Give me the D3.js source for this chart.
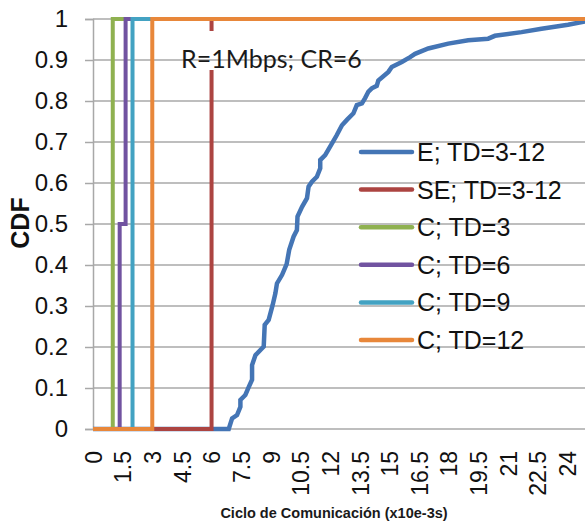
<!DOCTYPE html>
<html><head><meta charset="utf-8">
<script src="https://cdn.jsdelivr.net/npm/d3@7"></script>
<style>
html,body{margin:0;padding:0;background:#fff;}
svg{display:block;font-family:"Liberation Sans",Arial,sans-serif;}
</style></head>
<body><svg id="c" width="585" height="523"></svg>
<script>
// ---- data ----
const xMax = 24.9;
const xTickValues = [0,1.5,3,4.5,6,7.5,9,10.5,12,13.5,15,16.5,18,19.5,21,22.5,24];
const xTickLabels = ["0","1.5","3","4.5","6","7.5","9","10.5","12","13.5","15","16.5","18","19.5","21","22.5","24"];
const yTickValues = [0,0.1,0.2,0.3,0.4,0.5,0.6,0.7,0.8,0.9,1];
const yTickLabels = ["0","0.1","0.2","0.3","0.4","0.5","0.6","0.7","0.8","0.9","1"];
const seriesNames = ["E; TD=3-12","SE; TD=3-12","C; TD=3","C; TD=6","C; TD=9","C; TD=12"];
const seriesColors = ["#4475B5","#AC4441","#8FB150","#7153A0","#43A2C2","#E8873A"];

const eX = [0,6.87,7.04,7.29,7.46,7.46,7.71,7.88,8.05,8.05,8.22,8.64,8.69,8.89,9.09,9.23,9.31,9.57,9.80,9.93,10.15,10.32,10.35,10.58,10.83,10.91,11.08,11.33,11.50,11.50,11.75,12.00,12.17,12.34,12.60,12.85,13.18,13.35,13.61,13.77,13.94,14.11,14.36,14.44,14.95,15.12,15.63,16.05,16.30,16.97,17.98,18.99,20.00,20.34,21.69,22.70,24.04,24.9];
const eY = [0,0,0.026,0.034,0.054,0.071,0.083,0.102,0.120,0.156,0.180,0.201,0.254,0.266,0.302,0.331,0.355,0.376,0.402,0.437,0.469,0.485,0.518,0.542,0.563,0.591,0.603,0.615,0.636,0.656,0.668,0.689,0.703,0.717,0.741,0.754,0.770,0.790,0.794,0.807,0.823,0.831,0.837,0.850,0.871,0.883,0.895,0.907,0.915,0.928,0.940,0.948,0.952,0.959,0.968,0.976,0.986,0.994];
const seX = [0,6,6,24.9];
const seY = [0,0,1,1];
const c3X = [0,1,1,24.9];
const c3Y = [0,0,1,1];
const c6X = [0,1.35,1.35,1.65,1.65,24.9];
const c6Y = [0,0,0.5,0.5,1,1];
const c9X = [0,2,2,24.9];
const c9Y = [0,0,1,1];
const c12X = [0,3,3,24.9];
const c12Y = [0,0,1,1];
const seriesX = [eX,seX,c3X,c6X,c9X,c12X];
const seriesY = [eY,seY,c3Y,c6Y,c9Y,c12Y];
const noteText = "R=1Mbps; CR=6";
const xTitle = "Ciclo de Comunicación (x10e-3s)";
const yTitle = "CDF";

// ---- layout ----
const svg = d3.select("#c");
const L = 93, R = 585, T = 19, B = 429;
const x = d3.scaleLinear().domain([0, xMax]).range([L, R]);
const y = d3.scaleLinear().domain([0, 1]).range([B, T]);
const gridColor = "#A8A8A8";

function drawGrid(g){
  g.selectAll("line.g").data(yTickValues).join("line").attr("class","g")
    .attr("x1", L).attr("x2", R)
    .attr("y1", d=>y(d)).attr("y2", d=>y(d))
    .attr("stroke", gridColor).attr("stroke-width", 1.5);
}
drawGrid(svg.append("g"));

// y axis
const yAx = svg.append("g").attr("transform",`translate(${L},0)`)
  .call(d3.axisLeft(y).tickValues(yTickValues).tickSize(8).tickPadding(17)
    .tickFormat((d,i)=>yTickLabels[i]));
yAx.select(".domain").attr("stroke", gridColor).attr("stroke-width",1.5);
yAx.selectAll(".tick line").attr("stroke", gridColor).attr("stroke-width",1.5);
yAx.selectAll("text").attr("font-size",24).attr("fill","#111")
  .attr("font-family","'Liberation Sans',Arial,sans-serif");

// x axis labels
const xAx = svg.append("g").attr("transform",`translate(0,${B})`)
  .call(d3.axisBottom(x).tickValues(xTickValues).tickSize(0).tickFormat((d,i)=>xTickLabels[i]));
xAx.select(".domain").remove();
xAx.selectAll("text")
  .attr("font-size",23).attr("fill","#111")
  .attr("font-family","'Liberation Sans',Arial,sans-serif")
  .attr("text-anchor","end")
  .attr("transform","translate(0,22) rotate(-90)")
  .attr("x",0).attr("y",0).attr("dy","0.36em");

// series
const line = d3.line().x(d=>x(d[0])).y(d=>y(d[1]));
const sg = svg.append("g");
seriesX.forEach((xs,i)=>{
  const pts = xs.map((v,j)=>[v, seriesY[i][j]]);
  sg.append("path").attr("d", line(pts)).attr("fill","none")
    .attr("stroke", seriesColors[i]).attr("stroke-width", i===0?4.5:4)
    .attr("stroke-linejoin","miter").attr("stroke-linecap","butt");
});

// note label with white box
const noteG = svg.append("g");
const noteT = svg.append("text").text(noteText)
  .attr("x",181).attr("y",68).attr("font-size",25).attr("fill","#1a1a1a")
  .attr("font-family","Lato,'Liberation Sans',sans-serif");
const bb = noteT.node().getBBox();
noteG.append("rect").attr("x",bb.x-3).attr("y",31).attr("width",bb.width+6).attr("height",39).attr("fill","#fff");
svg.append("clipPath").attr("id","nc").append("rect")
  .attr("x",bb.x-3).attr("y",31).attr("width",bb.width+6).attr("height",39);
drawGrid(noteG.append("g").attr("clip-path","url(#nc)"));
noteT.raise();

// legend
const lg = svg.append("g");
seriesNames.forEach((n,i)=>{
  const yy = 152 + i*37.6;
  lg.append("line").attr("x1",361).attr("x2",412).attr("y1",yy).attr("y2",yy)
    .attr("stroke",seriesColors[i]).attr("stroke-width",4.5).attr("stroke-linecap","round");
  lg.append("text").text(n).attr("x",417).attr("y",yy).attr("dy","0.36em")
    .attr("font-size",25).attr("fill","#111");
});

// titles
svg.append("text").text(xTitle).attr("x",334).attr("y",518)
  .attr("text-anchor","middle").attr("font-size",14.5).attr("font-weight","bold").attr("fill","#1a1a1a");
svg.append("text").text(yTitle).attr("transform","translate(29,223) rotate(-90)")
  .attr("text-anchor","middle").attr("font-size",25).attr("font-weight","bold").attr("fill","#111");
</script></body></html>
